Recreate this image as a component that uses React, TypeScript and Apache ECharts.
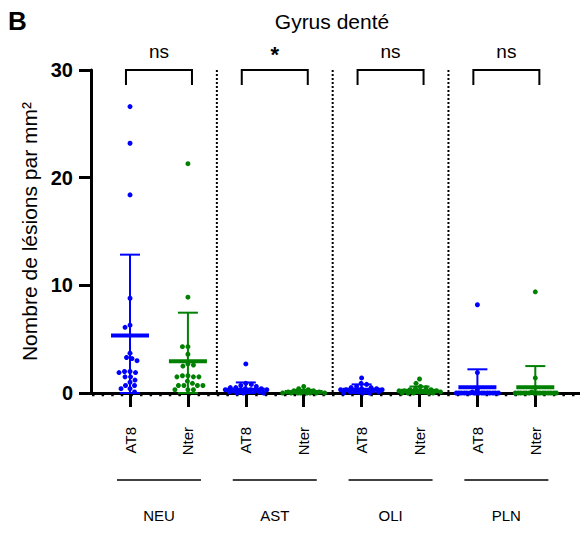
import React, { useEffect, useRef } from 'react';
import * as echarts from 'echarts';

// ---------- data ----------
const groups = ['NEU', 'AST', 'OLI', 'PLN'];
const markers = ['AT8', 'Nter'];
const significance = ['ns', '*', 'ns', 'ns'];
const yTicks = [0, 10, 20, 30];

const neuAT8 = [26.6, 23.2, 18.4, 8.8, 6.3, 6.1, 3.7, 3.3, 3.2, 3.0, 2.0, 2.0, 1.9, 1.9, 1.5, 1.5, 1.2, 1.0, 0.7, 0.7, 0.4, 0.4, 0.1];
const neuNter = [21.3, 8.9, 4.3, 4.3, 3.6, 2.7, 2.6, 2.5, 1.6, 1.5, 1.5, 1.5, 1.6, 1.1, 0.9, 0.7, 0.7, 0.7, 0.7, 0.3, 0.3, 0.3];
const astAT8 = [2.7, 0.9, 0.8, 0.7, 0.6, 0.5, 0.5, 0.4, 0.4, 0.3, 0.3, 0.3, 0.2, 0.2, 0.2, 0.1, 0.1, 0.1, 0.0, 0.0, 0.0];
const astNter = [0.6, 0.4, 0.3, 0.2, 0.2, 0.1, 0.1, 0.1, 0.0, 0.0, 0.0, 0.0, 0.0, 0.0, 0.0, 0.0];
const oliAT8 = [1.4, 0.9, 0.8, 0.6, 0.5, 0.5, 0.4, 0.4, 0.3, 0.3, 0.3, 0.2, 0.2, 0.2, 0.1, 0.1, 0.1, 0.0, 0.0, 0.0];
const oliNter = [1.3, 0.9, 0.6, 0.5, 0.4, 0.3, 0.3, 0.2, 0.2, 0.2, 0.1, 0.1, 0.1, 0.0, 0.0, 0.0, 0.0, 0.0];
const plnAT8 = [8.2, 1.9, 0.3, 0.1, 0, 0, 0, 0, 0, 0, 0, 0, 0, 0, 0, 0, 0, 0, 0, 0];
const plnNter = [9.4, 1.4, 0.5, 0.1, 0, 0, 0, 0, 0, 0, 0, 0, 0, 0, 0, 0, 0, 0, 0, 0];

const seriesValues = [neuAT8, neuNter, astAT8, astNter, oliAT8, oliNter, plnAT8, plnNter];
const means = [5.35, 2.96, 0.3, 0.1, 0.3, 0.2, 0.54, 0.54];
const sds = [7.5, 4.5, 0.68, 0.2, 0.5, 0.4, 1.66, 1.96];

// ---------- style ----------
const BLUE = '#0000ff';
const GREEN = '#008000';
const FONT = '"Liberation Sans", Arial, Helvetica, sans-serif';

function swarm(api: any, gi: number, vals: number[]) {
  const placed: number[][] = [];
  const minD = 5.4;
  const maxOff = 21;
  const order = vals.map((_, k) => k).sort((a, b) => vals[b] - vals[a]);
  let flip = 1;
  for (const k of order) {
    const [cx, cy] = api.coord([gi, vals[k]]);
    let best: number | null = null;
    let fallback = cx;
    let fallbackScore = -1;
    for (let o = 0; o <= maxOff && best === null; o += 0.5) {
      for (const s of [flip, -flip]) {
        const x = cx + s * o;
        let md = Infinity;
        for (const p of placed) {
          const d = Math.hypot(p[0] - x, p[1] - cy);
          if (d < md) md = d;
        }
        if (md >= minD) { best = x; break; }
        if (md > fallbackScore) { fallbackScore = md; fallback = x; }
      }
    }
    flip = -flip;
    placed.push([best === null ? fallback : best, cy]);
  }
  return placed;
}

export default function App() {
  const ref = useRef<HTMLDivElement>(null);
  useEffect(() => {
    const chart = echarts.init(ref.current!, null, { renderer: 'svg' });
    const idx = seriesValues.map((_, i) => i);
    const option: any = {
      animation: false,
      backgroundColor: '#ffffff',
      grid: { left: 91, right: 0, top: 70, bottom: 140 },
      xAxis: [
        {
          type: 'value',
          min: -0.674,
          max: 7.772,
          axisLine: { show: true, onZero: true, lineStyle: { color: '#000', width: 3 } },
          axisTick: { show: true, customValues: idx, length: 14, lineStyle: { color: '#000', width: 3 } },
          axisLabel: {
            show: true,
            customValues: idx,
            rotate: 90,
            margin: 34,
            color: '#000',
            fontSize: 15,
            fontFamily: FONT,
            formatter: (v: number) => markers[Math.round(v) % 2],
          },
          splitLine: { show: false },
          minorSplitLine: { show: false },
        },
        {
          type: 'value',
          min: -0.674,
          max: 7.772,
          position: 'bottom',
          offset: 110,
          axisLine: { show: false, onZero: false },
          axisTick: { show: false },
          axisLabel: {
            show: true,
            customValues: groups.map((_, g) => 2 * g + 0.5),
            margin: 5,
            color: '#000',
            fontSize: 15,
            fontFamily: FONT,
            formatter: (v: number) => groups[Math.round((v - 0.5) / 2)],
          },
          splitLine: { show: false },
        },
      ],
      yAxis: {
        type: 'value',
        min: 0,
        max: 30,
        interval: 10,
        name: 'Nombre de lésions par mm²',
        nameLocation: 'middle',
        nameGap: 48,
        nameTextStyle: { color: '#000', fontSize: 21, fontFamily: FONT },
        axisLine: { show: true, onZero: false, lineStyle: { color: '#000', width: 3 } },
        axisTick: { show: true, length: 12, lineStyle: { color: '#000', width: 3 } },
        axisLabel: {
          color: '#000',
          fontSize: 20,
          fontWeight: 'bold',
          fontFamily: FONT,
          margin: 18,
          formatter: (v: number) => (yTicks.includes(v) ? String(v) : ''),
        },
        splitLine: { show: false },
      },
      graphic: [
        { type: 'text', left: 8, top: 8, style: { text: 'B', fontSize: 26, fontWeight: 'bold', fontFamily: FONT, fill: '#000' } },
        { type: 'text', x: 332, y: 21, style: { text: 'Gyrus denté', fontSize: 21, fontFamily: FONT, fill: '#000', textAlign: 'center', textVerticalAlign: 'middle' } },
      ],
      series: [
        {
          type: 'custom',
          silent: true,
          clip: false,
          z: 1,
          itemStyle: { color: '#000' },
          data: [[0, 0]],
          renderItem: (params: any, api: any) => {
            const children: any[] = [];
            const [xl, y0] = api.coord([-0.674, 0]);
            const [xr] = api.coord([7.772, 0]);
            const yTop = api.coord([0, 30])[1];
            // dotted baseline under the axis
            children.push({ type: 'line', shape: { x1: xl + 1, y1: y0 + 2, x2: xr, y2: y0 + 2 }, style: { stroke: '#000', lineWidth: 2.5, lineDash: [2.5, 7.1] } });
            // dotted separators
            for (let g = 1; g < groups.length; g++) {
              const sx = api.coord([2 * g - 0.5, 0])[0];
              children.push({ type: 'line', shape: { x1: sx, y1: yTop, x2: sx, y2: y0 }, style: { stroke: '#000', lineWidth: 2, lineDash: [2, 2] } });
            }
            groups.forEach((_, g) => {
              const a = api.coord([2 * g - 0.07, 30])[0];
              const b = api.coord([2 * g + 1.07, 30])[0];
              const c = api.coord([2 * g + 0.5, 30])[0];
              children.push({ type: 'polyline', shape: { points: [[a, yTop + 15], [a, yTop], [b, yTop], [b, yTop + 15]] }, style: { stroke: '#000', lineWidth: 2, fill: 'none' } });
              const isStar = significance[g] === '*';
              children.push({
                type: 'text',
                x: c,
                y: isStar ? yTop - 16 : yTop - 19,
                style: { text: significance[g], fontSize: isStar ? 22 : 19, fontWeight: isStar ? 'bold' : 'normal', fontFamily: FONT, fill: '#000', textAlign: 'center', textVerticalAlign: 'middle' },
              });
              // group underline
              children.push({ type: 'line', shape: { x1: c - 42, y1: y0 + 87, x2: c + 42, y2: y0 + 87 }, style: { stroke: '#000', lineWidth: 1.5 } });
            });
            return { type: 'group', children };
          },
        },
        {
          type: 'custom',
          silent: true,
          clip: false,
          z: 3,
          itemStyle: { color: '#000' },
          data: idx.map((i) => [i, means[i]]),
          renderItem: (params: any, api: any) => {
            const i = params.dataIndex;
            const color = i % 2 === 0 ? BLUE : GREEN;
            const children: any[] = [];
            for (const [x, y] of swarm(api, i, seriesValues[i])) {
              children.push({ type: 'circle', shape: { cx: x, cy: y, r: 2.5 }, style: { fill: color, stroke: 'none' } });
            }
            const [cx, my] = api.coord([i, means[i]]);
            const top = api.coord([i, means[i] + sds[i]])[1];
            const bot = api.coord([i, Math.max(0, means[i] - sds[i])])[1];
            const ls = { stroke: color, lineWidth: 2 };
            children.push({ type: 'line', shape: { x1: cx, y1: top, x2: cx, y2: bot }, style: ls });
            children.push({ type: 'line', shape: { x1: cx - 10, y1: top, x2: cx + 10, y2: top }, style: ls });
            children.push({ type: 'line', shape: { x1: cx - 10, y1: bot, x2: cx + 10, y2: bot }, style: ls });
            children.push({ type: 'line', shape: { x1: cx - 19, y1: my, x2: cx + 19, y2: my }, style: { stroke: color, lineWidth: 4 } });
            return { type: 'group', children };
          },
        },
      ],
    };
    chart.setOption(option);
    return () => chart.dispose();
  }, []);
  return <div ref={ref} style={{ position: 'fixed', left: 0, top: 0, width: 580, height: 533 }} />;
}
